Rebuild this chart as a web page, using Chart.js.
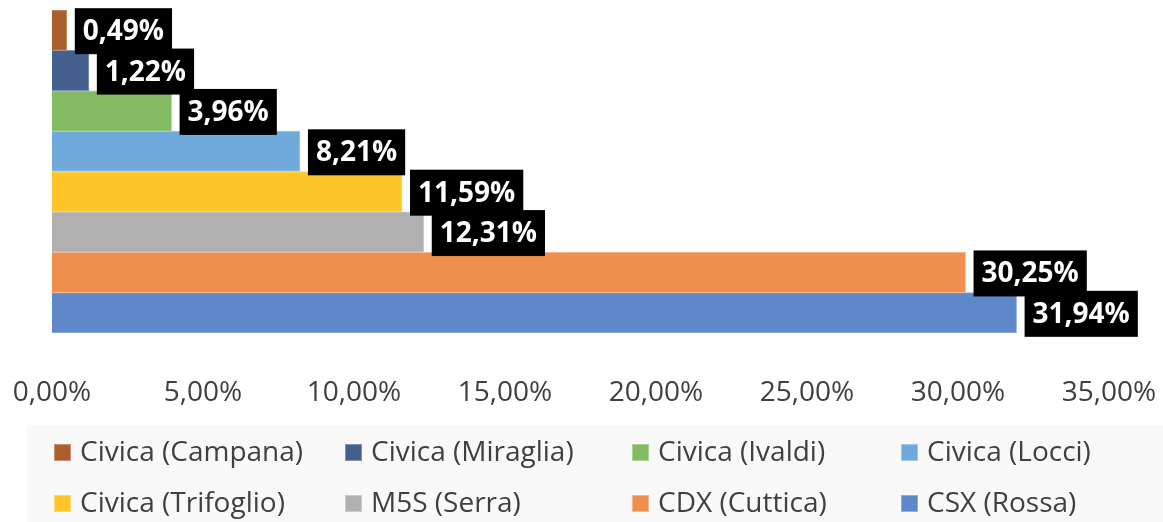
<!DOCTYPE html>
<html>
<head>
<meta charset="utf-8">
<script src="https://cdn.jsdelivr.net/npm/chart.js@4/dist/chart.umd.min.js"></script>
<style>
    html, body { margin: 0; padding: 0; background: #fff; }
    #wrap { width: 1163px; height: 522px; }
</style>
</head>
<body>
<div id="wrap"><canvas id="cchart" width="1163" height="522"></canvas></div>
<script>
// data
const seriesNames = ["Civica (Campana)", "Civica (Miraglia)", "Civica (Ivaldi)", "Civica (Locci)",
    "Civica (Trifoglio)", "M5S (Serra)", "CDX (Cuttica)", "CSX (Rossa)"];
const seriesValues = [0.49, 1.22, 3.96, 8.21, 11.59, 12.31, 30.25, 31.94];
const seriesColors = ["#ad5e2d", "#44608e", "#84bb62", "#70a9dc", "#ffc62a", "#b0b0b0", "#ef8f4e", "#5e88c9"];
const seriesBorders = ["#c99272", "#7d92b5", "#aad393", "#a3c8ea", "#ffd970", "#cbcbcb", "#f5b68c", "#92aedb"];
const categories = [""];

const FONT = "'Open Sans', sans-serif";
const TEXT_COLOR = "#404040";

function fmtPct(v) {
    return v.toFixed(2).replace(".", ",") + "%";
}

/*
    Black boxes with the value, right of each bar
*/
const valueLabels = {
    id: "valueLabels",
    afterDatasetsDraw(chart) {
        const ctx = chart.ctx;
        ctx.save();
        ctx.font = "bold 28px " + FONT;
        ctx.textBaseline = "middle";
        ctx.textAlign = "left";
        chart.data.datasets.forEach((ds, i) => {
            const bar = chart.getDatasetMeta(i).data[0];
            const text = fmtPct(ds.data[0]);
            const w = ctx.measureText(text).width + 16;
            const h = 46;
            const x = bar.x + 8;
            const y = bar.y - h / 2 + 1;
            ctx.fillStyle = "#000";
            ctx.fillRect(x, y, w, h);
            ctx.fillStyle = "#fff";
            ctx.fillText(text, x + 8, bar.y + 2);
        });
        ctx.restore();
    }
};

/*
    Legend: grey panel, 2 rows x 4 columns
*/
const legendPanel = {
    id: "legendPanel",
    beforeDraw(chart) {
        const ctx = chart.ctx;
        ctx.save();
        ctx.fillStyle = "#f9f9f9";
        ctx.fillRect(27, 425, chart.width - 27, chart.height - 425);
        ctx.restore();
    },
    afterDraw(chart) {
        const ctx = chart.ctx;
        const cols = [54, 345, 632, 901];
        const rows = [452, 503];
        ctx.save();
        ctx.font = "28px " + FONT;
        ctx.textBaseline = "middle";
        ctx.textAlign = "left";
        chart.data.datasets.forEach((ds, i) => {
            const x = cols[i % 4];
            const y = rows[Math.floor(i / 4)];
            ctx.fillStyle = ds.backgroundColor;
            ctx.fillRect(x, y - 8, 17, 17);
            ctx.strokeStyle = ds.borderColor;
            ctx.lineWidth = 1;
            ctx.strokeRect(x + 0.5, y - 7.5, 16, 16);
            ctx.fillStyle = TEXT_COLOR;
            ctx.fillText(ds.label, x + 26, y + 1);
        });
        ctx.restore();
    }
};

let datasets = seriesNames.map((name, i) => ({
    label: name,
    data: [seriesValues[i]],
    backgroundColor: seriesColors[i],
    borderColor: seriesBorders[i],
    borderWidth: 1,
    barPercentage: 1,
    categoryPercentage: 1
}));

let _chart = new Chart(document.getElementById("cchart").getContext("2d"), {
    type: "bar",
    data: { labels: categories, datasets: datasets },
    options: {
        indexAxis: "y",
        responsive: false,
        animation: false,
        devicePixelRatio: 1,
        layout: { padding: { left: 52, right: 54, top: 10, bottom: 112 } },
        plugins: {
            legend: { display: false },
            tooltip: { enabled: false }
        },
        scales: {
            x: {
                min: 0,
                max: 35,
                grid: { display: false, drawTicks: false },
                border: { display: false },
                ticks: {
                    stepSize: 5,
                    padding: 43,
                    maxRotation: 0,
                    autoSkip: false,
                    color: TEXT_COLOR,
                    font: { family: FONT, size: 28 },
                    callback: (v) => fmtPct(v)
                },
                afterFit: (scale) => {
                    scale.height = 77;
                    scale.paddingLeft = 0;
                    scale.paddingRight = 0;
                }
            },
            y: { display: false }
        }
    },
    plugins: [legendPanel, valueLabels]
});
</script>
</body>
</html>
